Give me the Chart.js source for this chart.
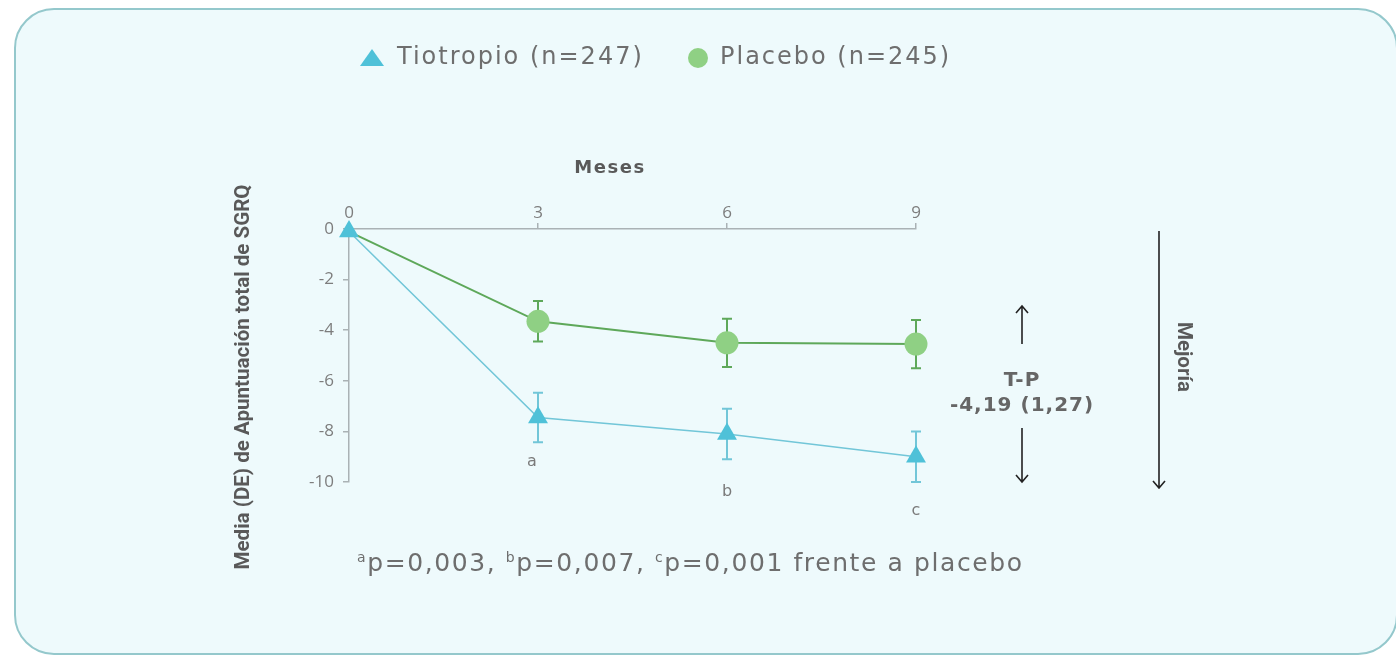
<!DOCTYPE html>
<html lang="es">
<head>
<meta charset="utf-8">
<title>SGRQ: Tiotropio frente a placebo</title>
<script src="https://cdn.jsdelivr.net/npm/chart.js@4/dist/chart.umd.min.js"></script>
<style>
  html, body { margin: 0; padding: 0; background: #ffffff; overflow: hidden; }
  #wrap { position: relative; width: 1396px; height: 656px; overflow: hidden; }
  #frame {
    position: absolute; left: 14px; top: 8px; width: 1380px; height: 643px;
    border: 2px solid #94c8cc; border-radius: 40px; background: #eefafc;
  }
  #c { position: absolute; left: 0; top: 0; }
</style>
</head>
<body>
<div id="wrap">
  <div id="frame"></div>
  <canvas id="c" width="1396" height="656"></canvas>
</div>
<script>
// Meses de seguimiento
const months = [0, 3, 6, 9];

// Cambio medio en la puntuación total SGRQ y su desviación
const tiotropioMean = [-0.1, -7.45, -8.1, -9.0];
const tiotropioSD   = [0, 0.98, 1.0, 1.0];
const placeboMean   = [-0.1, -3.65, -4.5, -4.55];
const placeboSD     = [0, 0.8, 0.95, 0.95];

// Letras de significación bajo cada punto de tiotropio
const sigLetters = ['', 'a', 'b', 'c'];

const yTicks = [0, -2, -4, -6, -8, -10];
const xTicks = [0, 3, 6, 9];

const TIO_COLOR = '#4fc1d8';
const TIO_LINE = '#72c6d8';
const PLA_COLOR = '#8fd084';
const PLA_LINE = '#5ea85a';

const SANS = '"Open Sans", "Noto Sans", sans-serif';
const WIDE = '"DejaVu Sans", "Noto Sans", sans-serif';
const TALL = 'Roboto, "Open Sans", sans-serif';

const toPoints = (ys) => months.map((m, i) => ({ x: m, y: ys[i] }));

// Barras de error (media ± DE)
const errorBars = {
  id: 'errorBars',
  beforeDatasetsDraw(chart) {
    const { ctx, scales: { x, y } } = chart;
    const sets = [
      { mean: placeboMean, sd: placeboSD, color: PLA_LINE, w: 2 },
      { mean: tiotropioMean, sd: tiotropioSD, color: TIO_LINE, w: 2 }
    ];
    ctx.save();
    sets.forEach(s => {
      ctx.strokeStyle = s.color;
      ctx.lineWidth = s.w;
      months.forEach((m, i) => {
        if (!s.sd[i]) return;
        const px = Math.round(x.getPixelForValue(m));
        const top = y.getPixelForValue(s.mean[i] + s.sd[i]);
        const bot = y.getPixelForValue(s.mean[i] - s.sd[i]);
        ctx.beginPath();
        ctx.moveTo(px, top); ctx.lineTo(px, bot);
        ctx.moveTo(px - 5, top); ctx.lineTo(px + 5, top);
        ctx.moveTo(px - 5, bot); ctx.lineTo(px + 5, bot);
        ctx.stroke();
      });
    });
    ctx.restore();
  }
};

function arrow(ctx, x, y1, y2) {
  // línea de y1 a y2 con punta abierta en y2
  const dir = y2 > y1 ? 1 : -1;
  ctx.beginPath();
  ctx.moveTo(x, y1); ctx.lineTo(x, y2);
  ctx.moveTo(x - 6, y2 - dir * 7); ctx.lineTo(x, y2); ctx.lineTo(x + 6, y2 - dir * 7);
  ctx.stroke();
}

// Texto girado y estrechado para ocupar una longitud dada
function narrowText(ctx, text, cx, cy, angle, length, font) {
  ctx.save();
  ctx.translate(cx, cy);
  ctx.rotate(angle);
  ctx.font = font;
  const w = ctx.measureText(text).width;
  ctx.scale(length / w, 1);
  ctx.textAlign = 'center';
  ctx.textBaseline = 'middle';
  ctx.fillText(text, 0, 0);
  ctx.restore();
}

// Textos y flechas alrededor del gráfico
const decorations = {
  id: 'decorations',
  afterDraw(chart) {
    const { ctx, scales: { x, y } } = chart;
    ctx.save();

    // Leyenda
    ctx.textBaseline = 'middle';
    ctx.textAlign = 'left';
    ctx.font = '24px ' + WIDE;
    ctx.letterSpacing = '2px';
    ctx.fillStyle = TIO_COLOR;
    ctx.beginPath();
    ctx.moveTo(372, 49); ctx.lineTo(384, 66); ctx.lineTo(360, 66); ctx.closePath();
    ctx.fill();
    ctx.fillStyle = '#6e6e6e';
    ctx.fillText('Tiotropio (n=247)', 397, 58);
    ctx.fillStyle = PLA_COLOR;
    ctx.beginPath();
    ctx.arc(698, 58, 10, 0, Math.PI * 2);
    ctx.fill();
    ctx.fillStyle = '#6e6e6e';
    ctx.fillText('Placebo (n=245)', 720, 58);

    // Título del eje X
    ctx.textAlign = 'center';
    ctx.font = 'bold 18px ' + WIDE;
    ctx.letterSpacing = '1.5px';
    ctx.fillStyle = '#595959';
    ctx.fillText('Meses', 610, 168);
    ctx.letterSpacing = '0px';

    // Títulos verticales
    ctx.fillStyle = '#595959';
    narrowText(ctx, 'Media (DE) de Apuntuación total de SGRQ', 244, 377, -Math.PI / 2, 385, 'bold 21px ' + TALL);
    narrowText(ctx, 'Mejoría', 1183, 357, Math.PI / 2, 70, 'bold 21px ' + TALL);

    // Letras de significación
    ctx.textAlign = 'center';
    ctx.textBaseline = 'middle';
    ctx.font = '16px ' + WIDE;
    ctx.fillStyle = '#7a7a7a';
    const letterOffsets = [0, 44, 58, 54];
    months.forEach((m, i) => {
      if (!sigLetters[i]) return;
      const px = x.getPixelForValue(m);
      const py = y.getPixelForValue(tiotropioMean[i]) + letterOffsets[i];
      ctx.fillText(sigLetters[i], px - (i === 1 ? 6 : 0), py);
    });

    // Diferencia T-P
    ctx.strokeStyle = '#222222';
    ctx.lineWidth = 1.6;
    arrow(ctx, 1022, 344, 306);
    arrow(ctx, 1022, 428, 482);
    arrow(ctx, 1159, 231, 488);
    ctx.font = 'bold 20px ' + WIDE;
    ctx.letterSpacing = '1px';
    ctx.fillStyle = '#666666';
    ctx.fillText('T-P', 1022, 381);
    ctx.fillText('-4,19 (1,27)', 1022, 406);

    // Nota al pie con superíndices
    ctx.textAlign = 'left';
    ctx.textBaseline = 'alphabetic';
    ctx.letterSpacing = '1.6px';
    const parts = [['a', 'p=0,003, '], ['b', 'p=0,007, '], ['c', 'p=0,001 frente a placebo']];
    let cx = 357;
    const base = 571;
    parts.forEach(([sup, txt]) => {
      ctx.font = '14px ' + WIDE;
      ctx.fillStyle = '#6e6e6e';
      ctx.fillText(sup, cx, base - 9);
      cx += ctx.measureText(sup).width;
      ctx.font = '25px ' + WIDE;
      ctx.fillText(txt, cx, base);
      cx += ctx.measureText(txt).width;
    });

    ctx.restore();
  }
};

new Chart(document.getElementById('c'), {
  type: 'line',
  data: {
    datasets: [
      {
        label: 'Tiotropio (n=247)',
        data: toPoints(tiotropioMean),
        borderColor: TIO_LINE,
        backgroundColor: TIO_COLOR,
        borderWidth: 1.6,
        pointStyle: 'triangle',
        pointRadius: 11.5,
        pointBorderWidth: 0,
        pointBackgroundColor: TIO_COLOR,
        clip: false,
        order: 0
      },
      {
        label: 'Placebo (n=245)',
        data: toPoints(placeboMean),
        borderColor: PLA_LINE,
        backgroundColor: PLA_COLOR,
        borderWidth: 2,
        pointStyle: 'circle',
        pointRadius: [0, 11.5, 11.5, 11.5],
        pointBorderWidth: 0,
        pointBackgroundColor: PLA_COLOR,
        clip: false,
        order: 1
      }
    ]
  },
  options: {
    responsive: false,
    devicePixelRatio: 1,
    animation: false,
    layout: { padding: { left: 299, right: 480, top: 199, bottom: 174 } },
    plugins: { legend: { display: false }, tooltip: { enabled: false } },
    elements: { line: { tension: 0 } },
    scales: {
      x: {
        type: 'linear',
        position: 'top',
        min: 0, max: 9,
        afterBuildTicks: (s) => { s.ticks = xTicks.map(v => ({ value: v })); },
        afterFit: (s) => { s.height = 30; },
        ticks: { color: '#7d7d7d', font: { size: 17, family: SANS }, padding: 0 },
        grid: { drawOnChartArea: false, tickLength: 6, color: '#aab2b5', lineWidth: 1.5 },
        border: { color: '#aab2b5', width: 1.5 }
      },
      y: {
        position: 'left',
        min: -10, max: 0,
        afterBuildTicks: (s) => { s.ticks = yTicks.map(v => ({ value: v })); },
        afterFit: (s) => { s.width = 50; },
        ticks: { color: '#7d7d7d', font: { size: 17, family: SANS }, padding: 9 },
        grid: { drawOnChartArea: false, tickLength: 6, color: '#aab2b5', lineWidth: 1.5 },
        border: { color: '#aab2b5', width: 1.5 }
      }
    }
  },
  plugins: [errorBars, decorations]
});
</script>
</body>
</html>
